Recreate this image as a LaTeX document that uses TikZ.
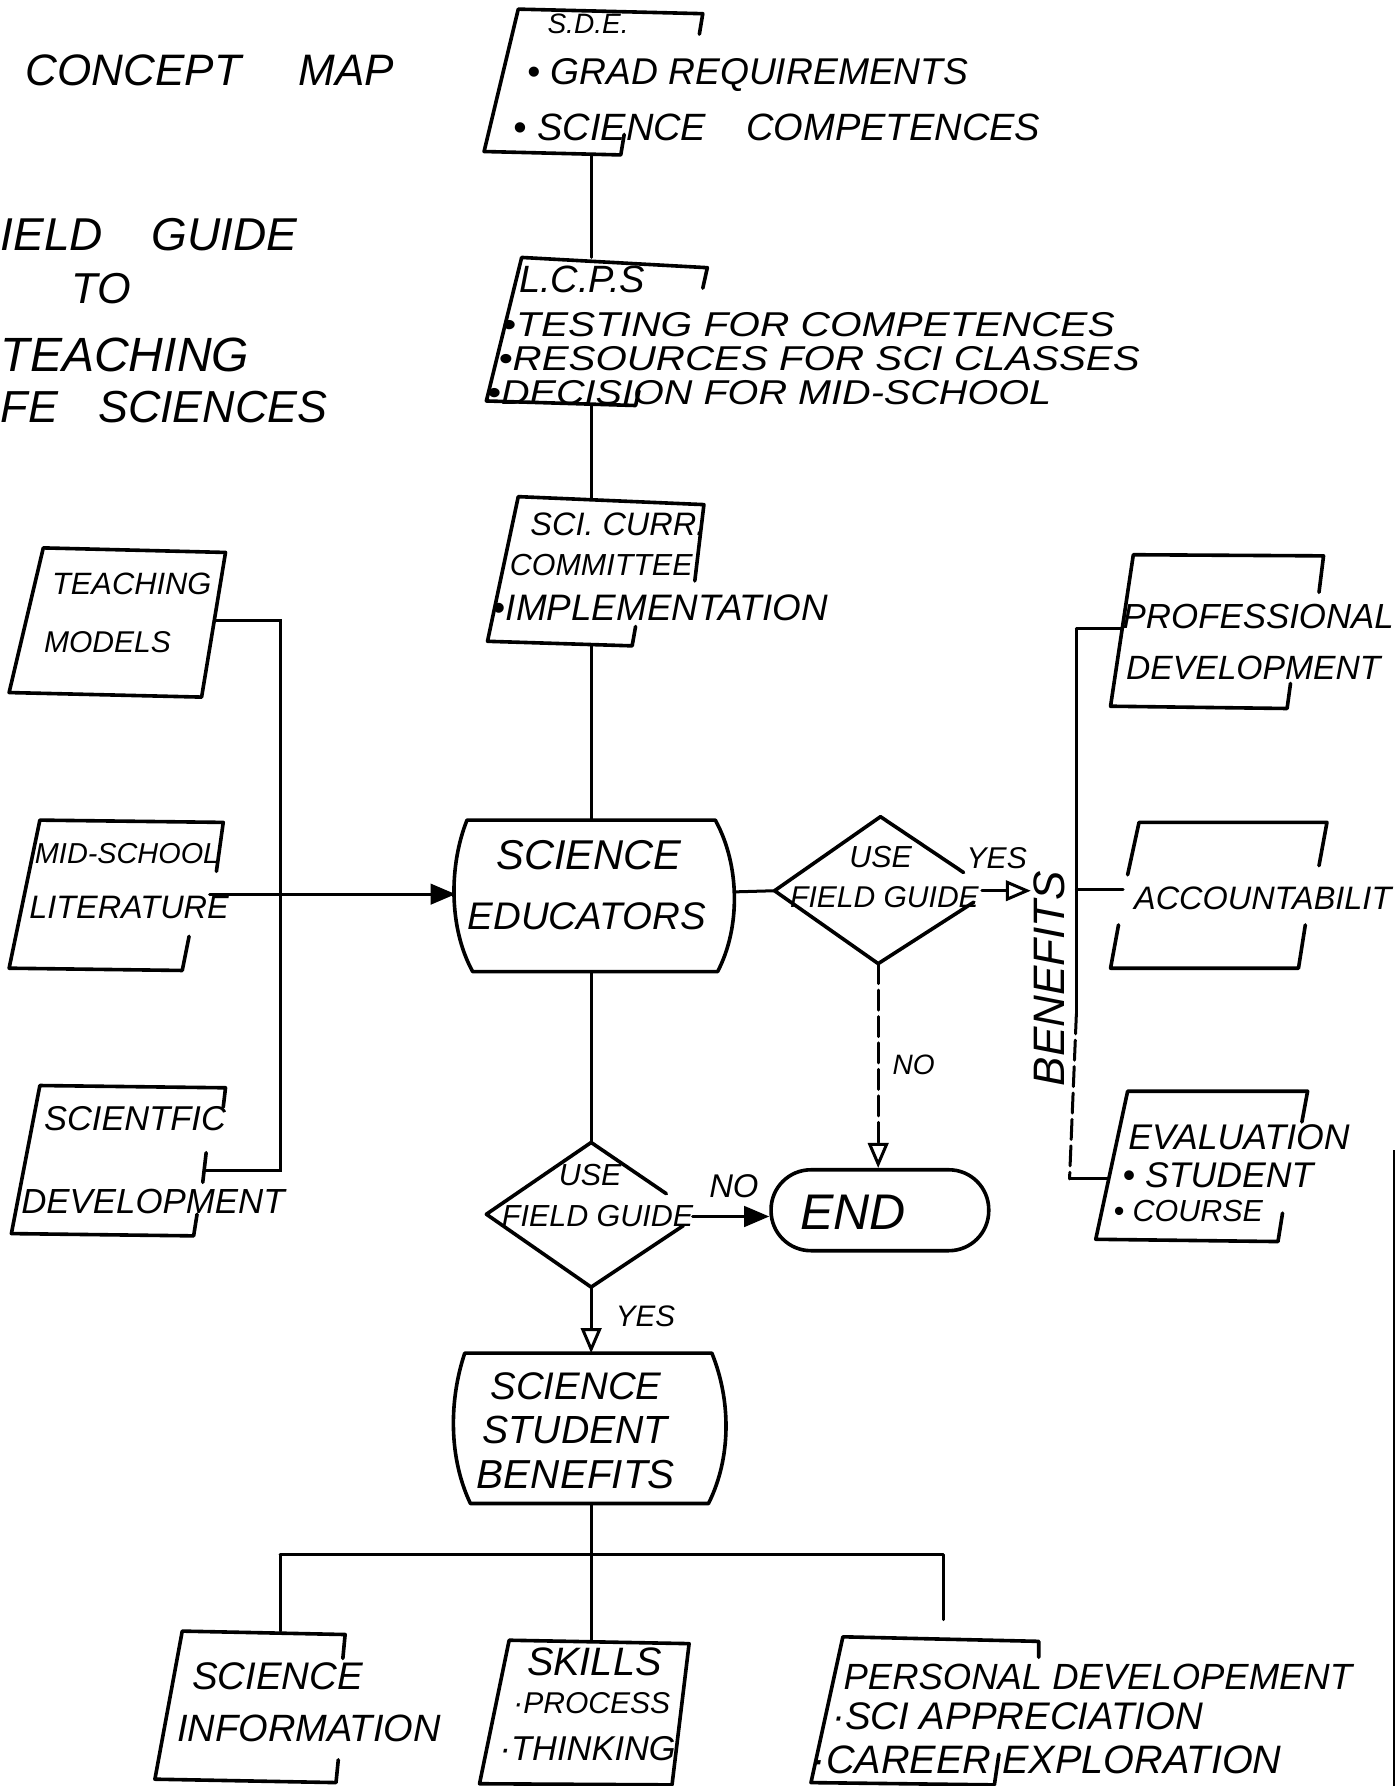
\documentclass[tikz,border=0pt]{standalone}
\usepackage{fontspec}
\setmainfont{Liberation Sans}
\usetikzlibrary{arrows.meta}
\newcommand{\hsz}[1]{\fontsize{#1pt}{#1pt}\selectfont\itshape}
\begin{document}
\begin{tikzpicture}[x=0.01cm,y=-0.01cm,
  box/.style={line width=0.9pt, line join=round, line cap=round},
  conn/.style={line width=0.75pt, line cap=round},
  t/.style={inner sep=0pt, anchor=west},
  farrow/.style={-{Triangle[length=0.22cm,width=0.18cm]}},
  oarrow/.style={-{Triangle[open,length=0.22cm,width=0.18cm]}}]
\fill[white] (0,0) rectangle (1226,1568);
\useasboundingbox (0,0) rectangle (1226,1568);

% ---------- title ----------
\node[t,font={\hsz{11}}] (title) at (22,62) {CONCEPT\hspace{1.3em}MAP};
\node[t,font={\hsz{11.5}}] (ti1) at (0,206) {IELD\hspace{12pt}GUIDE};
\node[t,font={\hsz{10.8}}] (ti2) at (62,253) {TO};
\node[t,font={\hsz{12}}] (ti3) at (0,312) {TEACHING};
\node[t,font={\hsz{11.2}}] (ti4) at (0,357) {FE\hspace{10pt}SCIENCES};

% ---------- S.D.E. ----------
\draw[box] (614,30) -- (617,12) -- (455,8) -- (425,133) -- (545,136) -- (548,118);
\node[t,font={\hsz{7}}] (sde0) at (480,21) {S.D.E.};
\node[t,font={\hsz{9.3}}] (sde1) at (462,66) {• GRAD REQUIREMENTS};
\node[t,font={\hsz{9.5}}] (sde2) at (450,112) {• SCIENCE\hspace{10pt}COMPETENCES};
\coordinate (sdeS) at (519,136);

% ---------- L.C.P.S ----------
\draw[box] (617,253) -- (621,235) -- (458,226) -- (427,352) -- (558,356) -- (561,343);
\node[t,font={\hsz{9.5}}] (lc0) at (455,245) {L.C.P.S};
\node[t,font={\hsz{8.6}}] (lc1) at (440,285) {\scalebox{1.18}[1]{•TESTING FOR COMPETENCES}};
\node[t,font={\hsz{8.6}}] (lc2) at (437,315) {\scalebox{1.17}[1]{•RESOURCES FOR SCI CLASSES}};
\node[t,font={\hsz{8.6}}] (lc3) at (427,345) {\scalebox{1.15}[1]{•DECISION FOR MID-SCHOOL}};
\coordinate (lcN) at (519,226);
\coordinate (lcS) at (519,356);

% ---------- SCI. CURR. ----------
\draw[box] (610,510) -- (618,443) -- (455,436) -- (428,563) -- (555,567) -- (558,550);
\node[t,font={\hsz{8.1}}] (sc0) at (465,460) {SCI. CURR.};
\node[t,font={\hsz{7.6}}] (sc1) at (447,496) {COMMITTEE};
\node[t,font={\hsz{9.2}}] (sc2) at (432,534) {•IMPLEMENTATION};
\coordinate (scN) at (519,437);
\coordinate (scS) at (519,567);

% ---------- SCIENCE EDUCATORS ----------
\draw[box] (410,720) -- (628,720) .. controls (650,760) and (650,815) .. (630,853)
  -- (415,853) .. controls (394,815) and (394,760) .. (410,720) -- cycle;
\node[t,font={\hsz{10.4}}] (se0) at (435,751) {SCIENCE};
\node[t,font={\hsz{9.6}}] (se1) at (410,804) {EDUCATORS};
\coordinate (seN) at (519,720);
\coordinate (seS) at (519,853);
\coordinate (seW) at (400,785);
\coordinate (seE) at (645,783);

% ---------- left inputs ----------
\draw[box] (198,485) -- (38,481) -- (8,608) -- (177,612) -- cycle;
\node[t,font={\hsz{7.7}}] (tm0) at (45,513) {TEACHING};
\node[t,font={\hsz{7.5}}] (tm1) at (38,564) {MODELS};
\coordinate (tmE) at (189,545);

\draw[box] (190,765) -- (196,722) -- (35,720) -- (8,850) -- (160,852) -- (166,822);
\node[t,font={\hsz{7.2}}] (ms0) at (30,749) {MID-SCHOOL};
\node[t,font={\hsz{8.1}}] (ms1) at (25,797) {LITERATURE};
\coordinate (msE) at (184,785);

\draw[box] (196,972) -- (198,955) -- (35,953) -- (10,1083) -- (170,1085) -- (173,1066);
\draw[box] (181,1012) -- (178,1038);
\node[t,font={\hsz{8.6}}] (sd0) at (38,982) {SCIENTFIC};
\node[t,font={\hsz{8.7}}] (sd1) at (18,1055) {DEVELOPMENT};
\coordinate (sdE) at (180,1028);

\coordinate (brT) at (246,545);
\coordinate (brB) at (246,1028);
\draw[conn] (tmE) -- (brT) -- (brB) -- (sdE);
\draw[conn,farrow] (msE) -- (seW);

% ---------- upper decision ----------
\coordinate (d1N) at (773,717);
\coordinate (d1W) at (680,782);
\coordinate (d1S) at (771,846);
\draw[box] (846,766) -- (d1N) -- (d1W) -- (d1S) -- (855,792);
\node[t,font={\hsz{7.6}}] (d1a) at (745,752) {USE};
\node[t,font={\hsz{7.5}}] (d1b) at (693,788) {FIELD GUIDE};
\node[t,font={\hsz{7.5}}] (d1y) at (848,753) {YES};
\coordinate (d1E) at (862,782);
\coordinate (benA) at (905,782);
\draw[conn] (seE) -- (d1W);
\draw[conn,oarrow] (d1E) -- (benA);
\node[t,font={\hsz{7}}] (d1n) at (783,935) {NO};

% ---------- END ----------
\node[draw, line width=0.9pt, rounded corners=0.35cm, minimum width=1.91cm,
  minimum height=0.71cm, inner sep=0pt] (endbox) at (772.5,1062.5) {};
\node[t,font={\hsz{12.5}}] (endtxt) at (702,1064) {END};
\draw[conn,oarrow,dash pattern=on 5pt off 1.6pt] (d1S) -- (endbox.north -| d1S);

% ---------- BENEFITS ----------
\node[inner sep=0pt, rotate=90, font={\hsz{11}}] (ben) at (921,859) {BENEFITS};
\coordinate (bv1) at (945,552);
\coordinate (bv2) at (945,781);
\coordinate (bv3) at (945,890);
\coordinate (bv4) at (939,1035);
\draw[conn] (bv1) -- (bv3);
\draw[conn,dash pattern=on 5pt off 1.6pt] (bv3) -- (bv4);

\draw[box] (1158,520) -- (1162,488) -- (995,487) -- (975,620) -- (1130,622) -- (1133,600);
\node[t,font={\hsz{8.7}}] (pd0) at (985,541) {PROFESSIONAL};
\node[t,font={\hsz{8.4}}] (pd1) at (988,586) {DEVELOPMENT};
\coordinate (pdW) at (985,552);

\draw[box] (1158,760) -- (1165,722) -- (1000,722) -- (990,768);
\draw[box] (982,812) -- (975,850) -- (1140,850) -- (1146,812);
\node[t,font={\hsz{8.1}}] (ac0) at (995,789) {ACCOUNTABILIT};
\coordinate (acW) at (986,781);

\draw[box] (1143,985) -- (1148,958) -- (990,958) -- (962,1088) -- (1122,1090) -- (1126,1065);
\node[t,font={\hsz{8.9}}] (ev0) at (990,998) {EVALUATION};
\node[t,font={\hsz{8.9}}] (ev1) at (985,1032) {• STUDENT};
\node[t,font={\hsz{7.6}}] (ev2) at (977,1063) {• COURSE};
\coordinate (evW) at (973,1035);

\draw[conn] (bv1) -- (pdW);
\draw[conn] (bv2) -- (acW);
\draw[conn] (bv4) -- (evW);

% ---------- lower decision ----------
\coordinate (d2N) at (519,1003);
\coordinate (d2W) at (427,1066);
\coordinate (d2S) at (519,1130);
\draw[box] (585,1048) -- (d2N) -- (d2W) -- (d2S) -- (600,1076);
\node[t,font={\hsz{7.6}}] (d2a) at (490,1032) {USE};
\node[t,font={\hsz{7.6}}] (d2b) at (440,1068) {FIELD GUIDE};
\node[t,font={\hsz{8.2}}] (d2n) at (622,1041) {NO};
\node[t,font={\hsz{7.4}}] (d2y) at (540,1156) {YES};
\coordinate (d2E) at (608,1068);
\draw[conn] (seS) -- (d2N);
\draw[conn,farrow] (d2E) -- (endbox.west |- d2E);

% ---------- SCIENCE STUDENT BENEFITS ----------
\draw[box] (408,1188) -- (625,1188) .. controls (642,1230) and (642,1280) .. (622,1320)
  -- (413,1320) .. controls (394,1280) and (394,1230) .. (408,1188) -- cycle;
\node[t,font={\hsz{9.6}}] (sb0) at (430,1217) {SCIENCE};
\node[t,font={\hsz{9.8}}] (sb1) at (423,1255) {STUDENT};
\node[t,font={\hsz{10.1}}] (sb2) at (418,1295) {BENEFITS};
\coordinate (sbN) at (519,1188);
\coordinate (sbS) at (519,1320);
\draw[conn,oarrow] (d2S) -- (sbN);

% ---------- main spine ----------
\draw[conn] (sdeS) -- (lcN);
\draw[conn] (lcS) -- (scN);
\draw[conn] (scS) -- (seN);

% ---------- bottom row ----------
\coordinate (hb) at (519,1365);
\coordinate (hl) at (246,1365);
\coordinate (hr) at (828,1365);
\coordinate (siN) at (246,1432);
\coordinate (skN) at (519,1441);
\coordinate (peN) at (828,1422);
\draw[conn] (sbS) -- (hb);
\draw[conn] (hl) -- (hr);
\draw[conn] (hl) -- (siN);
\draw[conn] (hb) -- (skN);
\draw[conn] (hr) -- (peN);

\draw[box] (301,1456) -- (303,1435) -- (160,1432) -- (136,1562) -- (295,1565) -- (297,1545);
\node[t,font={\hsz{9.6}}] (si0) at (168,1472) {SCIENCE};
\node[t,font={\hsz{9.5}}] (si1) at (155,1517) {INFORMATION};

\draw[box] (605,1443) -- (447,1440) -- (421,1566) -- (590,1567) -- cycle;
\node[t,font={\hsz{9.9}}] (sk0) at (462,1459) {SKILLS};
\node[t,font={\hsz{7.5}}] (sk1) at (450,1495) {·PROCESS};
\node[t,font={\hsz{8.6}}] (sk2) at (438,1535) {·THINKING};

\draw[box] (912,1455) -- (912,1441) -- (740,1437) -- (712,1565) -- (873,1567) -- (877,1540);
\node[t,font={\hsz{9.1}}] (pe0) at (740,1472) {PERSONAL DEVELOPEMENT};
\node[t,font={\hsz{9.6}}] (pe1) at (730,1507) {·SCI APPRECIATION};
\node[t,font={\hsz{9.9}}] (pe2) at (713,1545) {·CAREER EXPLORATION};

% scan edge line
\draw[line width=0.5pt] (1224,1010) -- (1224,1568);
\end{tikzpicture}
\end{document}
